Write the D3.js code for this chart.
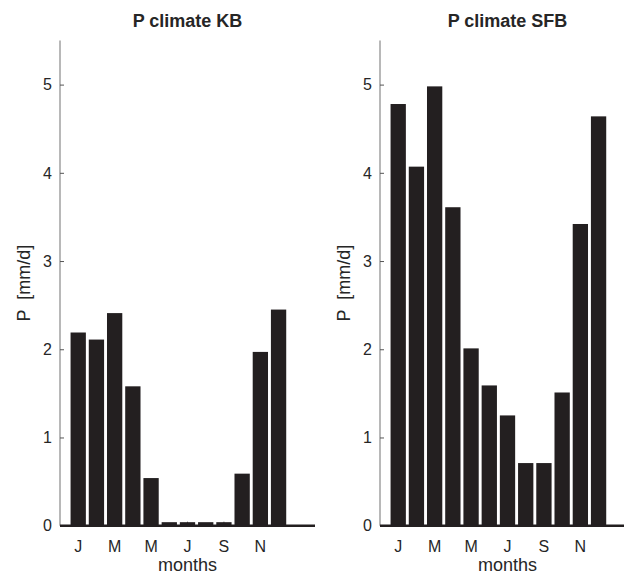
<!DOCTYPE html>
<html lang="en">
<head>
    <meta charset="UTF-8">
    <title>P climate</title>
    <script src="https://d3js.org/d3.v7.min.js"></script>
    <style>
        body { margin: 0; background: #fff; }
        svg { display: block; font-family: "Liberation Sans", Arial, sans-serif; }
    </style>
</head>
<body>
    <svg id="chart" width="624" height="575"></svg>

    <script>
        // monthly mean precipitation
        const months = [1, 2, 3, 4, 5, 6, 7, 8, 9, 10, 11, 12];
        const precipKB = [2.19, 2.11, 2.41, 1.58, 0.54, 0.04, 0.04, 0.04, 0.04, 0.59, 1.97, 2.45];
        const precipSFB = [4.78, 4.07, 4.98, 3.61, 2.01, 1.59, 1.25, 0.71, 0.71, 1.51, 3.42, 4.64];
        const xTicks = [1, 3, 5, 7, 9, 11];
        const xTickLabels = ["J", "M", "M", "J", "S", "N"];
        const yTicks = [0, 1, 2, 3, 4, 5];
        const titles = ["P climate KB", "P climate SFB"];

        const svg = d3.select("#chart");
        const plotTop = 40.5, plotBottom = 525.7, plotW = 255;
        const panelX = [60, 380];

        const y = d3.scaleLinear().domain([0, 5.5]).range([plotBottom, plotTop]);

        [precipKB, precipSFB].forEach((vals, i) => {
            const g = svg.append("g").attr("transform", `translate(${panelX[i]},0)`);
            const x = d3.scaleLinear().domain([0, 14]).range([0, plotW]);
            const bw = (x(1) - x(0)) * 0.84;

            // y axis: grey line, inward ticks
            const yAxis = d3.axisRight(y).tickValues(yTicks).tickSize(4).tickFormat("");
            const ya = g.append("g").call(yAxis);
            ya.select(".domain").attr("stroke", "#a0a0a0").attr("stroke-width", 1.5)
                .attr("d", `M0,${plotTop}V${plotBottom}`);
            ya.selectAll(".tick line").attr("stroke", "#555");

            g.selectAll(".ylab").data(yTicks).join("text")
                .attr("x", -8)
                .attr("y", d => y(d))
                .attr("dy", "0.36em")
                .attr("text-anchor", "end")
                .attr("font-size", 16)
                .attr("fill", "#262626")
                .text(d => d);

            // x ticks (pointing up, mostly hidden by bars)
            g.selectAll(".xtick").data(xTicks).join("line")
                .attr("x1", d => x(d)).attr("x2", d => x(d))
                .attr("y1", plotBottom).attr("y2", plotBottom - 4)
                .attr("stroke", "#555");

            g.selectAll("rect").data(vals).join("rect")
                .attr("x", (d, j) => x(months[j]) - bw / 2)
                .attr("y", d => y(d))
                .attr("width", bw)
                .attr("height", d => y(0) - y(d))
                .attr("fill", "#231f20");

            // baseline
            g.append("line")
                .attr("x1", 0).attr("x2", plotW)
                .attr("y1", y(0)).attr("y2", y(0))
                .attr("stroke", "#231f20").attr("stroke-width", 2.5);

            g.selectAll(".xlab").data(xTicks).join("text")
                .attr("x", d => x(d))
                .attr("y", 552)
                .attr("text-anchor", "middle")
                .attr("font-size", 16)
                .attr("fill", "#262626")
                .text((d, j) => xTickLabels[j]);

            g.append("text")
                .attr("x", plotW / 2).attr("y", 571)
                .attr("text-anchor", "middle")
                .attr("font-size", 18)
                .attr("fill", "#262626")
                .text("months");

            g.append("text")
                .attr("transform", `translate(-30,${(plotTop + plotBottom) / 2}) rotate(-90)`)
                .attr("text-anchor", "middle")
                .attr("font-size", 18)
                .attr("fill", "#262626")
                .attr("xml:space", "preserve")
                .style("white-space", "pre")
                .text("P  [mm/d]");

            g.append("text")
                .attr("x", plotW / 2).attr("y", 26.5)
                .attr("text-anchor", "middle")
                .attr("font-size", 18)
                .attr("font-weight", "bold")
                .attr("fill", "#262626")
                .text(titles[i]);
        });
    </script>
</body>
</html>
